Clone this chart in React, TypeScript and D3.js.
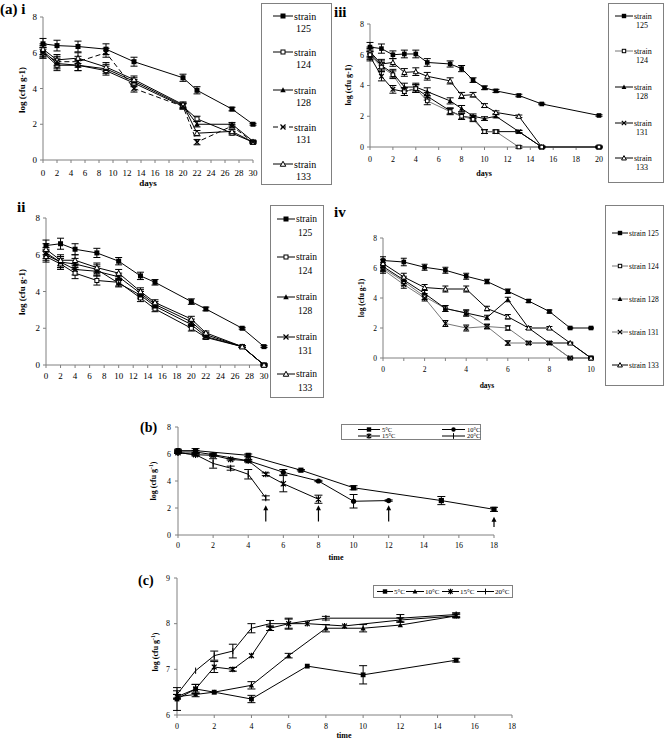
import React from 'react';
import * as d3 from 'd3';

const FONT = "'Liberation Serif', 'Times New Roman', serif";

// ---------- (a) i ----------
const daysI = [0, 2, 5, 9, 13, 20, 22, 27, 30];
const i125 = [6.5, 6.4, 6.35, 6.2, 5.5, 4.6, 3.9, 2.85, 2.0];
const i124 = [6.0, 5.3, 5.3, 5.0, 4.3, 3.0, 2.3, 1.5, 1.0];
const i128 = [6.1, 5.4, 5.3, 5.1, 4.4, 3.05, 2.0, 2.0, 1.05];
const i131 = [6.0, 5.5, 5.5, 6.0, 4.0, 3.0, 1.0, 1.9, 1.0];
const i133 = [6.2, 5.6, 5.7, 5.2, 4.5, 3.1, 1.5, 1.6, 1.0];
const iErr125 = [0.3, 0.3, 0.3, 0.3, 0.25, 0.2, 0.2, 0.1, 0.05];
const iErr = [0.3, 0.3, 0.3, 0.25, 0.2, 0.15, 0.15, 0.1, 0.05];

// ---------- (a) ii ----------
const daysII = [0, 2, 4, 7, 10, 13, 15, 20, 22, 27, 30];
const ii125 = [6.5, 6.6, 6.3, 6.1, 5.65, 4.85, 4.5, 3.45, 3.05, 2.0, 1.0];
const ii124 = [5.9, 5.5, 5.0, 4.6, 4.5, 3.65, 3.05, 2.0, 1.5, 1.0, 0];
const ii128 = [6.1, 5.6, 5.5, 5.2, 4.45, 3.8, 3.2, 2.2, 1.55, 1.0, 0];
const ii131 = [6.0, 5.6, 5.2, 5.1, 4.8, 3.9, 3.3, 2.35, 1.65, 1.0, 0];
const ii133 = [6.3, 5.7, 5.7, 5.3, 5.0, 4.0, 3.4, 2.5, 1.75, 1.0, 0];
const iiErr = [0.3, 0.3, 0.3, 0.25, 0.2, 0.2, 0.15, 0.15, 0.1, 0.05, 0.05];

// ---------- (a) iii ----------
const daysIII = [0, 1, 2, 3, 4, 5, 7, 8, 9, 10, 11, 13, 15, 20];
const iii125 = [6.5, 6.4, 6.0, 6.05, 6.05, 5.5, 5.4, 5.1, 4.35, 3.85, 3.65, 3.35, 2.8, 2.05];
const iii124 = [6.0, 5.2, 4.7, 3.6, 3.8, 3.0, 2.3, 2.0, 1.8, 1.0, 1.0, 0, 0, 0];
const iii128 = [6.1, 5.3, 4.8, 3.9, 3.9, 3.6, 3.0, 2.5, 2.0, 1.85, 2.0, 1.0, 0, 0];
const iii131 = [5.9, 4.6, 3.75, 3.6, 3.8, 3.3, 2.35, 2.0, 1.9, 1.0, 1.0, 1.0, 0, 0];
const iii133 = [6.2, 5.4, 5.5, 4.85, 4.9, 4.6, 4.3, 3.35, 3.4, 2.7, 2.25, 2.0, 0, 0];
const iiiErr = [0.3, 0.3, 0.25, 0.25, 0.25, 0.25, 0.2, 0.2, 0.15, 0.12, 0.1, 0.08, 0.05, 0.05];

// ---------- (a) iv ----------
const daysIV = [0, 1, 2, 3, 4, 5, 6, 7, 8, 9, 10];
const iv125 = [6.5, 6.4, 6.05, 5.85, 5.45, 5.1, 4.45, 3.8, 3.1, 2.0, 2.0];
const iv124 = [6.0, 5.1, 4.1, 3.3, 3.0, 2.1, 2.0, 1.0, 1.0, 0, 0];
const iv128 = [6.1, 5.2, 4.3, 3.3, 3.0, 2.7, 3.9, 2.0, 1.0, 1.0, 0];
const iv131 = [5.9, 4.9, 4.0, 2.3, 2.0, 2.1, 1.0, 1.0, 1.0, 0, 0];
const iv133 = [6.3, 5.4, 4.7, 4.6, 4.6, 3.3, 2.75, 2.0, 2.0, 1.0, 0];
const ivErr = [0.25, 0.25, 0.2, 0.2, 0.2, 0.15, 0.15, 0.1, 0.1, 0.05, 0.05];

const strainNames = ['125', '124', '128', '131', '133'];

// ---------- (b) ----------
const tB5 = [0, 1, 4, 7, 10, 15, 18];
const b5 = [6.25, 6.25, 5.9, 4.8, 3.5, 2.55, 1.9];
const b5Err = [0.1, 0.15, 0.1, 0.05, 0.15, 0.3, 0.15];
const tB10 = [0, 1, 2, 4, 6, 8, 10, 12];
const b10 = [6.15, 6.15, 5.95, 5.5, 4.65, 4.0, 2.5, 2.55];
const b10Err = [0.1, 0.1, 0.1, 0.1, 0.2, 0.05, 0.5, 0.05];
const tB15 = [0, 1, 2, 3, 4, 5, 6, 8];
const b15 = [6.1, 5.95, 5.9, 5.6, 5.5, 4.5, 3.8, 2.65];
const b15Err = [0.05, 0.05, 0.05, 0.05, 0.05, 0.1, 0.6, 0.3];
const tB20 = [0, 1, 2, 3, 4, 5];
const b20 = [6.1, 5.95, 5.3, 4.95, 4.5, 2.75];
const b20Err = [0.05, 0.1, 0.35, 0.15, 0.35, 0.15];
const arrowTimes = [5, 8, 12, 18];
const arrowTops = [2.2, 2.2, 2.2, 1.35];
const arrowBottoms = [1.0, 1.0, 1.0, 0.6];

// ---------- (c) ----------
const tC5 = [0, 1, 2, 4, 7, 10, 15];
const c5 = [6.35, 6.57, 6.5, 6.35, 7.07, 6.88, 7.2];
const c5Err = [0.25, 0.1, 0.02, 0.08, 0.02, 0.2, 0.04];
const tC10 = [0, 1, 2, 4, 6, 8, 10, 12, 15];
const c10 = [6.4, 6.45, 6.5, 6.65, 7.3, 7.9, 7.9, 7.97, 8.17];
const c10Err = [0.05, 0.05, 0.02, 0.08, 0.05, 0.08, 0.08, 0.02, 0.04];
const tC15 = [0, 1, 2, 3, 4, 5, 6, 7, 9, 12, 15];
const c15 = [6.4, 6.57, 7.05, 7.0, 7.3, 7.9, 8.0, 8.0, 7.95, 8.08, 8.17];
const c15Err = [0.05, 0.1, 0.12, 0.04, 0.03, 0.05, 0.1, 0.02, 0.03, 0.05, 0.04];
const tC20 = [0, 1, 2, 3, 4, 5, 6, 8, 12, 15];
const c20 = [6.45, 6.97, 7.3, 7.4, 7.9, 8.0, 8.0, 8.12, 8.12, 8.2];
const c20Err = [0.08, 0.02, 0.1, 0.15, 0.1, 0.07, 0.12, 0.04, 0.08, 0.04];
const tempLabels = ['5°C', '10°C', '15°C', '20°C'];

type Series = { x: number[]; y: number[]; err?: number[]; marker: string; dash?: string; color?: string };

function Marker({ type, cx, cy, s, color = '#000' }: { type: string; cx: number; cy: number; s: number; color?: string }) {
  switch (type) {
    case 'sqFilled':
      return <rect x={cx - s} y={cy - s} width={2 * s} height={2 * s} fill={color} />;
    case 'sqOpen':
      return <rect x={cx - s + 0.5} y={cy - s + 0.5} width={2 * s - 1} height={2 * s - 1} fill="#fff" stroke={color} strokeWidth={1} />;
    case 'triFilled':
      return <path d={`M${cx},${cy - s * 1.1}L${cx + s * 1.1},${cy + s * 0.9}L${cx - s * 1.1},${cy + s * 0.9}Z`} fill={color} />;
    case 'triOpen':
      return <path d={`M${cx},${cy - s * 1.1}L${cx + s * 1.1},${cy + s * 0.9}L${cx - s * 1.1},${cy + s * 0.9}Z`} fill="#fff" stroke={color} strokeWidth={1} />;
    case 'x':
      return <path d={`M${cx - s},${cy - s}L${cx + s},${cy + s}M${cx - s},${cy + s}L${cx + s},${cy - s}`} stroke={color} strokeWidth={1.2} fill="none" />;
    case 'asterisk':
      return <path d={`M${cx - s},${cy - s}L${cx + s},${cy + s}M${cx - s},${cy + s}L${cx + s},${cy - s}M${cx},${cy - s * 1.2}L${cx},${cy + s * 1.2}`} stroke={color} strokeWidth={1.2} fill="none" />;
    case 'circle':
      return <circle cx={cx} cy={cy} r={s} fill={color} />;
    case 'plus':
      return <path d={`M${cx},${cy - s * 1.3}L${cx},${cy + s * 1.3}`} stroke={color} strokeWidth={1} fill="none" />;
    default:
      return null;
  }
}

function Panel(p: {
  xDomain: [number, number]; xRange: [number, number]; yDomain: [number, number]; yRange: [number, number];
  xTicks: number[]; xLabels?: number[]; yTicks: number[]; series: Series[]; ms: number; fs: number;
  xLabOff: number; yLabOff: number; cap: number; axisColor?: string;
}) {
  const x = d3.scaleLinear().domain(p.xDomain).range(p.xRange);
  const y = d3.scaleLinear().domain(p.yDomain).range(p.yRange);
  const line = d3.line<[number, number]>().x(d => x(d[0])).y(d => y(d[1]));
  const ac = p.axisColor || '#808080';
  const labels = p.xLabels || p.xTicks;
  return (
    <g>
      <line x1={p.xRange[0]} x2={p.xRange[0]} y1={p.yRange[0]} y2={p.yRange[1]} stroke={ac} strokeWidth={1} />
      <line x1={p.xRange[0]} x2={p.xRange[1]} y1={p.yRange[0]} y2={p.yRange[0]} stroke={ac} strokeWidth={1} />
      {p.yTicks.map(t => (
        <g key={'yt' + t}>
          <line x1={p.xRange[0] - 3} x2={p.xRange[0]} y1={y(t)} y2={y(t)} stroke={ac} />
          <text x={p.xRange[0] - p.yLabOff} y={y(t)} dy="0.35em" textAnchor="end" fontSize={p.fs} fontFamily={FONT}>{t}</text>
        </g>
      ))}
      {p.xTicks.map(t => (
        <line key={'xt' + t} x1={x(t)} x2={x(t)} y1={p.yRange[0]} y2={p.yRange[0] + 3} stroke={ac} />
      ))}
      {labels.map(t => (
        <text key={'xl' + t} x={x(t)} y={p.yRange[0] + p.xLabOff} textAnchor="middle" fontSize={p.fs} fontFamily={FONT}>{t}</text>
      ))}
      {p.series.map((s, si) => (
        <path key={'l' + si} d={line(s.x.map((v, i) => [v, s.y[i]] as [number, number])) || ''} fill="none"
          stroke={s.color || '#000'} strokeWidth={1} strokeDasharray={s.dash} />
      ))}
      {p.series.map((s, si) => s.err ? (
        <g key={'e' + si}>
          {s.x.map((v, i) => {
            const e = s.err![i];
            if (!e || e < 0.04) return null;
            const cx = x(v), t = y(s.y[i] + e), b = y(s.y[i] - e);
            return (
              <path key={i} d={`M${cx},${t}L${cx},${b}M${cx - p.cap},${t}L${cx + p.cap},${t}M${cx - p.cap},${b}L${cx + p.cap},${b}`}
                stroke="#000" strokeWidth={1} fill="none" />
            );
          })}
        </g>
      ) : null)}
      {p.series.map((s, si) => (
        <g key={'m' + si}>
          {s.x.map((v, i) => <Marker key={i} type={s.marker} cx={x(v)} cy={y(s.y[i])} s={p.ms} color="#000" />)}
        </g>
      ))}
    </g>
  );
}

const aMarkers = ['sqFilled', 'sqOpen', 'triFilled', 'x', 'triOpen'];

function StrainLegend(p: { box: [number, number, number, number]; rows: number[]; lx: [number, number]; fs: number; twoLine: boolean; lh: number; dashes?: (string | undefined)[]; colors?: string[]; ms: number }) {
  const [x0, y0, x1, y1] = p.box;
  return (
    <g>
      <rect x={x0 + 0.5} y={y0 + 0.5} width={x1 - x0} height={y1 - y0} fill="#fff" stroke="#808080" strokeWidth={1} />
      {strainNames.map((n, i) => {
        const yy = p.rows[i];
        const mx = (p.lx[0] + p.lx[1]) / 2;
        return (
          <g key={n}>
            <line x1={p.lx[0]} x2={p.lx[1]} y1={yy} y2={yy} stroke={p.colors ? p.colors[i] : '#000'} strokeWidth={1}
              strokeDasharray={p.dashes ? p.dashes[i] : undefined} />
            <Marker type={aMarkers[i]} cx={mx} cy={yy} s={p.ms} />
            {p.twoLine ? (
              <text x={p.lx[1] + 1} y={yy} dy="0.35em" fontSize={p.fs} fontFamily={FONT}>
                <tspan>strain</tspan>
                <tspan x={p.lx[1] + 3} dy={p.lh}>{n}</tspan>
              </text>
            ) : (
              <text x={p.lx[1] + 1} y={yy} dy="0.35em" fontSize={p.fs} fontFamily={FONT}>strain {n}</text>
            )}
          </g>
        );
      })}
    </g>
  );
}

function Arrow({ x, yTop, yBot }: { x: number; yTop: number; yBot: number }) {
  return (
    <g>
      <line x1={x} x2={x} y1={yTop + 4} y2={yBot} stroke="#000" strokeWidth={1.2} />
      <path d={`M${x},${yTop}L${x + 2.5},${yTop + 5}L${x - 2.5},${yTop + 5}Z`} fill="#000" />
    </g>
  );
}

export default function App() {
  const ev2 = d3.range(0, 31, 2);
  const seriesI: Series[] = [
    { x: daysI, y: i124, err: iErr, marker: 'sqOpen' },
    { x: daysI, y: i128, err: iErr, marker: 'triFilled' },
    { x: daysI, y: i133, err: iErr, marker: 'triOpen' },
    { x: daysI, y: i131, err: iErr, marker: 'x', dash: '5,3' },
    { x: daysI, y: i125, err: iErr125, marker: 'sqFilled' },
  ];
  const seriesII: Series[] = [
    { x: daysII, y: ii124, err: iiErr, marker: 'sqOpen' },
    { x: daysII, y: ii128, err: iiErr, marker: 'triFilled' },
    { x: daysII, y: ii131, err: iiErr, marker: 'x' },
    { x: daysII, y: ii133, err: iiErr, marker: 'triOpen' },
    { x: daysII, y: ii125, err: iiErr, marker: 'sqFilled' },
  ];
  const seriesIII: Series[] = [
    { x: daysIII, y: iii133, err: iiiErr, marker: 'triOpen' },
    { x: daysIII, y: iii128, err: iiiErr, marker: 'triFilled' },
    { x: daysIII, y: iii131, err: iiiErr, marker: 'x' },
    { x: daysIII, y: iii124, err: iiiErr, marker: 'sqOpen', color: '#777' },
    { x: daysIII, y: iii125, err: iiiErr, marker: 'sqFilled' },
  ];
  const seriesIV: Series[] = [
    { x: daysIV, y: iv124, err: ivErr, marker: 'sqOpen', color: '#777' },
    { x: daysIV, y: iv131, err: ivErr, marker: 'x', color: '#777' },
    { x: daysIV, y: iv128, err: ivErr, marker: 'triFilled' },
    { x: daysIV, y: iv133, err: ivErr, marker: 'triOpen' },
    { x: daysIV, y: iv125, err: ivErr, marker: 'sqFilled' },
  ];
  const seriesB: Series[] = [
    { x: tB5, y: b5, err: b5Err, marker: 'sqFilled' },
    { x: tB10, y: b10, err: b10Err, marker: 'circle' },
    { x: tB15, y: b15, err: b15Err, marker: 'asterisk' },
    { x: tB20, y: b20, err: b20Err, marker: 'plus' },
  ];
  const seriesC: Series[] = [
    { x: tC5, y: c5, err: c5Err, marker: 'sqFilled' },
    { x: tC10, y: c10, err: c10Err, marker: 'triFilled' },
    { x: tC15, y: c15, err: c15Err, marker: 'asterisk' },
    { x: tC20, y: c20, err: c20Err, marker: 'plus' },
  ];
  const xB = d3.scaleLinear().domain([0, 18]).range([178, 494]);
  const yB = d3.scaleLinear().domain([0, 8]).range([535, 427]);
  const bMarkers = ['sqFilled', 'circle', 'asterisk', 'plus'];
  const cMarkers = ['sqFilled', 'triFilled', 'asterisk', 'plus'];
  const bLegend = [
    { lx: [358, 380], ty: 429.5 }, { lx: [442, 465], ty: 429.5 },
    { lx: [358, 380], ty: 436 }, { lx: [442, 465], ty: 436 },
  ];
  const cLegend = [[377, 393], [406, 424], [442, 459], [477, 494]];

  const yTitle = (cx: number, cy: number, sup: boolean, fs: number) => (
    <text transform={`translate(${cx},${cy}) rotate(-90)`} textAnchor="middle" fontSize={fs} fontWeight="bold" fontFamily={FONT}>
      {sup ? (<><tspan>log (cfu g</tspan><tspan dy={-3} fontSize={fs * 0.7}>-1</tspan><tspan dy={3}>)</tspan></>) : 'log (cfu g-1)'}
    </text>
  );

  return (
    <svg width={664} height={739} style={{ position: 'absolute', left: 0, top: 0, background: '#fff' }}>
      <rect x={0} y={0} width={664} height={739} fill="#fff" />
      {/* (a) i */}
      <text x={0} y={14} fontSize={15} fontWeight="bold" fontFamily={FONT}>(a) i</text>
      <Panel xDomain={[0, 30]} xRange={[43, 253]} yDomain={[0, 8]} yRange={[160, 17]} xTicks={ev2} yTicks={[0, 2, 4, 6, 8]}
        series={seriesI} ms={2.5} fs={9} xLabOff={16} yLabOff={6} cap={3.5} />
      {yTitle(25, 90, false, 9)}
      <text x={148} y={186} textAnchor="middle" fontSize={9} fontWeight="bold" fontFamily={FONT}>days</text>
      <StrainLegend box={[261, 3, 331, 184]} rows={[16, 52, 90, 127, 164]} lx={[273, 293]} fs={10} twoLine lh={12.5} ms={2.5}
        dashes={[undefined, undefined, undefined, '5,3', undefined]} />

      {/* (a) iii */}
      <text x={334} y={17} fontSize={15} fontWeight="bold" fontFamily={FONT}>iii</text>
      <Panel xDomain={[0, 20]} xRange={[370, 599]} yDomain={[0, 8]} yRange={[147, 24]} xTicks={d3.range(0, 21, 2)} yTicks={[0, 2, 4, 6, 8]}
        series={seriesIII} ms={2.3} fs={8} xLabOff={15} yLabOff={6} cap={3.5} />
      {yTitle(351, 85, false, 8)}
      <text x={484} y={176} textAnchor="middle" fontSize={8} fontWeight="bold" fontFamily={FONT}>days</text>
      <StrainLegend box={[608, 3, 663, 182]} rows={[16, 51, 87, 123, 158]} lx={[615, 633]} fs={8} twoLine lh={9} ms={2.2}
        colors={['#000', '#777', '#000', '#000', '#000']} />

      {/* (a) ii */}
      <text x={17} y={212} fontSize={15} fontWeight="bold" fontFamily={FONT}>ii</text>
      <Panel xDomain={[0, 30]} xRange={[46, 264]} yDomain={[0, 8]} yRange={[365, 218]} xTicks={ev2} yTicks={[0, 2, 4, 6, 8]}
        series={seriesII} ms={2.5} fs={9} xLabOff={14} yLabOff={6} cap={3.5} />
      {yTitle(25, 292, false, 9)}
      <StrainLegend box={[270, 205, 323, 397]} rows={[219, 257, 297, 337, 374]} lx={[277, 295]} fs={9.5} twoLine lh={14} ms={2.5} />

      {/* (a) iv */}
      <text x={334} y={217} fontSize={15} fontWeight="bold" fontFamily={FONT}>iv</text>
      <Panel xDomain={[0, 10]} xRange={[383, 591]} yDomain={[0, 8]} yRange={[358, 238]} xTicks={d3.range(0, 11, 1)} xLabels={[0, 2, 4, 6, 8, 10]}
        yTicks={[0, 2, 4, 6, 8]} series={seriesIV} ms={2.3} fs={7.5} xLabOff={14} yLabOff={6} cap={3} />
      {yTitle(364, 298, false, 7.5)}
      <text x={487} y={388} textAnchor="middle" fontSize={7.5} fontWeight="bold" fontFamily={FONT}>days</text>
      <StrainLegend box={[605, 205, 663, 385]} rows={[233, 266, 299, 332, 365]} lx={[612, 628]} fs={7.5} twoLine={false} lh={0} ms={2.2}
        colors={['#000', '#777', '#777', '#777', '#000']} />

      {/* (b) */}
      <text x={140} y={432} fontSize={14} fontWeight="bold" fontFamily={FONT}>(b)</text>
      <Panel xDomain={[0, 18]} xRange={[178, 494]} yDomain={[0, 8]} yRange={[535, 427]} xTicks={d3.range(0, 19, 2)} yTicks={[0, 2, 4, 6, 8]}
        series={seriesB} ms={2.6} fs={8} xLabOff={13} yLabOff={7} cap={4} />
      {arrowTimes.map((t, i) => <Arrow key={t} x={xB(t)} yTop={yB(arrowTops[i])} yBot={yB(arrowBottoms[i])} />)}
      {yTitle(156, 481, true, 8)}
      <text x={336} y={560} textAnchor="middle" fontSize={8} fontWeight="bold" fontFamily={FONT}>time</text>
      <rect x={341.5} y={424.5} width={139} height={15} fill="#fff" stroke="#808080" />
      {bLegend.map((l, i) => (
        <g key={i}>
          <line x1={l.lx[0]} x2={l.lx[1]} y1={l.ty} y2={l.ty} stroke="#000" />
          <Marker type={bMarkers[i]} cx={(l.lx[0] + l.lx[1]) / 2} cy={l.ty} s={2.2} />
          <text x={l.lx[1] + 2} y={l.ty} dy="0.35em" fontSize={6.5} fontFamily={FONT}>{tempLabels[i]}</text>
        </g>
      ))}

      {/* (c) */}
      <text x={138} y={585} fontSize={14} fontWeight="bold" fontFamily={FONT}>(c)</text>
      <Panel xDomain={[0, 18]} xRange={[177, 512]} yDomain={[6, 9]} yRange={[715, 578]} xTicks={d3.range(0, 19, 2)} yTicks={[6, 7, 8, 9]}
        series={seriesC} ms={2.4} fs={8} xLabOff={14} yLabOff={7} cap={4} />
      {yTitle(158, 652, true, 8)}
      <text x={344} y={738} textAnchor="middle" fontSize={8} fontWeight="bold" fontFamily={FONT}>time</text>
      <rect x={373.5} y={585.5} width={139} height={12} fill="#fff" stroke="#808080" />
      {cLegend.map((l, i) => (
        <g key={i}>
          <line x1={l[0]} x2={l[1]} y1={591.5} y2={591.5} stroke="#000" />
          <Marker type={cMarkers[i]} cx={(l[0] + l[1]) / 2} cy={591.5} s={2.2} />
          <text x={l[1] + 1} y={591.5} dy="0.35em" fontSize={7} fontFamily={FONT}>{tempLabels[i]}</text>
        </g>
      ))}
    </svg>
  );
}
